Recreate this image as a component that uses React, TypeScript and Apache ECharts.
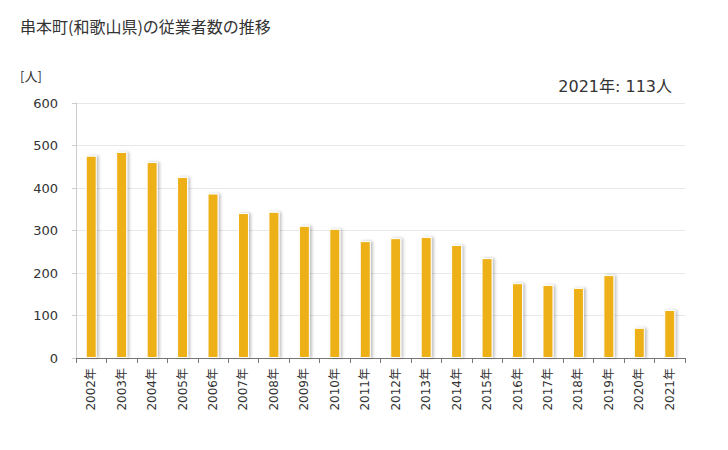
import React, { useEffect, useRef } from "react";
import * as echarts from "echarts";

const categories = ["2002年","2003年","2004年","2005年","2006年","2007年","2008年","2009年","2010年","2011年","2012年","2013年","2014年","2015年","2016年","2017年","2018年","2019年","2020年","2021年"];
const values = [476, 485, 461, 426, 387, 341, 344, 311, 304, 275, 282, 285, 266, 235, 176, 172, 165, 195, 71, 113];
const yTicks = [0, 100, 200, 300, 400, 500, 600];

export default function App() {
  const ref = useRef<HTMLDivElement>(null);
  useEffect(() => {
    const chart = echarts.init(ref.current!, null, { renderer: "svg" });
    const font = "'DejaVu Sans', 'Noto Sans CJK JP', sans-serif";
    const jp = "'Noto Sans CJK JP', sans-serif";
    chart.setOption({
      animation: false,
      textStyle: { fontFamily: font },
      title: [
        { text: "串本町(和歌山県)の従業者数の推移", left: 7, top: 5, textStyle: { fontSize: 16, fontWeight: "normal", color: "#333", fontFamily: jp } },
        { text: "[人]", left: 7, top: 56, textStyle: { fontSize: 13, fontWeight: "normal", color: "#333", fontFamily: jp } },
        { text: "2021年: 113人", right: 43, top: 65, textStyle: { fontSize: 16, fontWeight: "normal", color: "#333", fontFamily: font } }
      ],
      grid: { left: 68, right: 35, top: 95, bottom: 84 },
      xAxis: {
        type: "category",
        data: categories,
        axisLine: { lineStyle: { color: "#777" } },
        axisTick: { show: true, length: 5, lineStyle: { color: "#777" } },
        axisLabel: { rotate: 90, fontSize: 12, color: "#333", fontFamily: font, margin: 10 }
      },
      yAxis: {
        type: "value",
        min: yTicks[0],
        max: yTicks[yTicks.length - 1],
        interval: 100,
        axisLine: { show: true, lineStyle: { color: "#ccc" } },
        axisTick: { show: true, length: 4, lineStyle: { color: "#ccc" } },
        axisLabel: { fontSize: 13, color: "#333", fontFamily: font, margin: 18 },
        splitLine: { lineStyle: { color: "#e8e8e8" } }
      },
      series: [
        {
          type: "bar",
          data: values,
          barWidth: 11,
          itemStyle: {
            color: "#EDB015",
            borderColor: "#fff",
            borderWidth: 1,
            shadowColor: "rgba(0,0,0,0.25)",
            shadowBlur: 3,
            shadowOffsetX: 2,
            shadowOffsetY: 0
          }
        }
      ]
    });
    return () => chart.dispose();
  }, []);
  return <div ref={ref} style={{ width: 712, height: 434 }} />;
}
